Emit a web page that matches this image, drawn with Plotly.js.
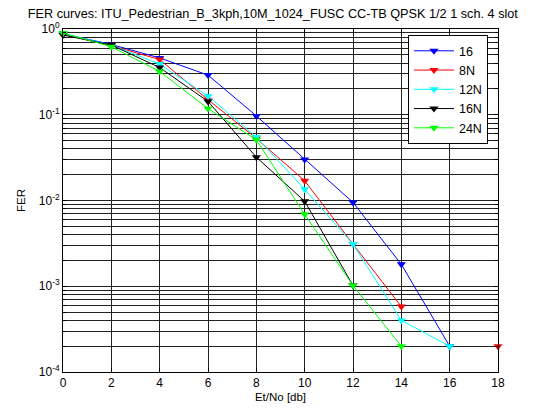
<!DOCTYPE html>
<html>
<head>
<meta charset="utf-8">
<script src="https://cdn.plot.ly/plotly-3.0.1.min.js"></script>
<style>html,body{margin:0;padding:0;background:#fff;}#chart{width:535px;height:408px;}</style>
</head>
<body>
<div id="chart"></div>
<script>
const xSNR = [0, 2, 4, 6, 8, 10, 12, 14, 16, 18];
const seriesNames = ["16", "8N", "12N", "16N", "24N"];
const seriesColors = ["#0000ff", "#ff0000", "#00ffff", "#000000", "#00ff00"];
const fer16  = [0.88, 0.66, 0.46, 0.29, 0.097, 0.030, 0.0095, 0.0018, 0.0002, null];
const fer8N  = [0.87, 0.64, 0.44, 0.15, 0.053, 0.017, 0.0031, 0.00058, null, 0.0002];
const fer12N = [0.88, 0.65, 0.39, 0.165, 0.055, 0.0135, 0.0031, 0.0004, 0.0002, null];
const fer16N = [0.85, 0.65, 0.355, 0.143, 0.032, 0.0098, 0.00102, null, null, null];
const fer24N = [0.90, 0.62, 0.32, 0.118, 0.051, 0.0069, 0.00102, 0.0002, null, null];
const allFer = [fer16, fer8N, fer12N, fer16N, fer24N];
const yTickVals = [1e-4, 1e-3, 1e-2, 1e-1, 1];
const yTickText = ["10<sup>-4</sup>", "10<sup>-3</sup>", "10<sup>-2</sup>", "10<sup>-1</sup>", "10<sup>0</sup>"];
const xTickVals = [0, 2, 4, 6, 8, 10, 12, 14, 16, 18];

const traces = allFer.map((ys, i) => ({
  x: xSNR, y: ys, name: seriesNames[i], type: 'scatter', mode: 'lines+markers',
  connectgaps: false, cliponaxis: false,
  line: {color: seriesColors[i], width: 1},
  marker: {symbol: 'triangle-down', size: 8, color: seriesColors[i]}
}));

const fam = 'Liberation Sans, Arial, sans-serif';
const font = {family: fam, size: 12, color: '#000'};
const layout = {
  width: 535, height: 408,
  margin: {l: 63, r: 37, t: 29, b: 36},
  paper_bgcolor: '#fff', plot_bgcolor: '#fff',
  font: font,
  showlegend: true,
  title: {text: 'FER curves: ITU_Pedestrian_B_3kph,10M_1024_FUSC CC-TB QPSK 1/2 1 sch. 4 slot',
          font: {family: fam, size: 12.7, color: '#000'},
          x: 0.51, xanchor: 'center', y: 0.968, yanchor: 'middle'},
  xaxis: {
    range: [0, 18], tickvals: xTickVals, ticks: 'inside', ticklen: 4, tickcolor: '#000',
    tickfont: {family: fam, size: 12, color: '#000'},
    showline: true, linecolor: '#000', linewidth: 1, mirror: 'ticks',
    showgrid: true, gridcolor: '#222', gridwidth: 1, zeroline: false,
    title: {text: 'Et/No [db]', font: {family: fam, size: 11.5, color: '#000'}, standoff: 3}
  },
  yaxis: {
    type: 'log', range: [-4, 0], tickvals: yTickVals, ticktext: yTickText,
    ticks: 'inside', ticklen: 4, tickcolor: '#000',
    tickfont: {family: fam, size: 12, color: '#000'},
    showline: true, linecolor: '#000', linewidth: 1, mirror: 'ticks',
    showgrid: true, gridcolor: '#222', gridwidth: 1, zeroline: false,
    minor: {dtick: 'D1', showgrid: true, gridcolor: '#222', gridwidth: 1, ticks: 'inside', ticklen: 3, tickcolor: '#000'},
    title: {text: 'FER', font: {family: fam, size: 11.5, color: '#000'}, standoff: 10}
  },
  legend: {
    x: 0.793, y: 0.982, xanchor: 'left', yanchor: 'top',
    bgcolor: '#fff', bordercolor: '#000', borderwidth: 1,
    font: {family: fam, size: 12.5, color: '#000'},
    itemwidth: 40, tracegroupgap: 0
  }
};
Plotly.newPlot('chart', traces, layout, {displayModeBar: false, staticPlot: true});
</script>
</body>
</html>
